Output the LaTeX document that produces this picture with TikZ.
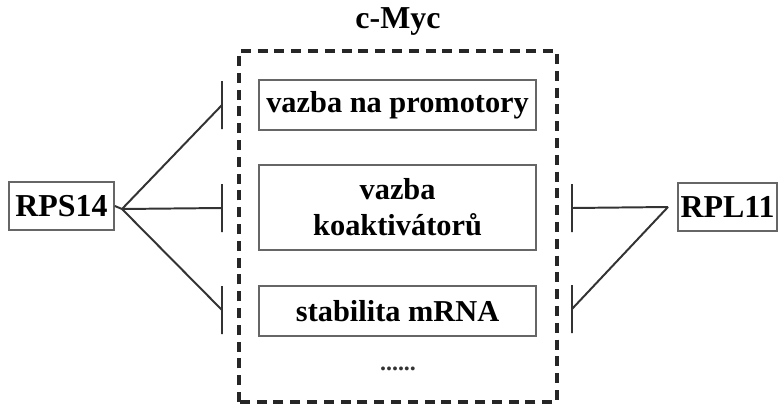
\documentclass[tikz,border=0pt]{standalone}
\usepackage{fontspec}
\setmainfont{Liberation Serif}
\usetikzlibrary{arrows.meta}

\begin{document}
\begin{tikzpicture}[
    txt/.style={font=\fontsize{22.7}{25.6}\selectfont\bfseries},
    gene/.style={rectangle,draw=black!60,line width=1.2pt,txt,inner sep=0pt,minimum height=1.2cm},
    func/.style={rectangle,draw=black!60,line width=1.4pt,font=\fontsize{21.6}{25.6}\selectfont\bfseries,
      align=center,minimum width=6.925cm},
    link/.style={line width=1.4pt,draw=black!80},
    % line ending in an upright bar
    inhib/.style={link,to path={-- (\tikztotarget) +(0,0.6) -- +(0,-0.6)}}
  ]
  \useasboundingbox (0,0) rectangle (19.45,10.175);
  % c-Myc and its functions
  \node[txt] (myc) at (9.95,9.63) {c-Myc};
  \draw[line width=2.2pt,black!85,dash pattern=on 0.25cm off 0.17cm]
  (5.975,0.125) rectangle (13.925,8.9);
  \node[func,minimum height=1.25cm] (promo) at (9.94,7.55) {vazba na promotory};
  \node[func,minimum height=2.125cm] (koakt) at (9.94,4.99) {vazba\\koaktivátorů};
  \node[func,minimum height=1.25cm] (mrna) at (9.94,2.4) {stabilita mRNA};
  \node[font=\fontsize{17}{18}\selectfont\bfseries,black!80] (dots) at (9.95,0.95) {......};
  % ribosomal proteins
  \node[gene,minimum width=2.625cm] (rps14) at (1.5375,5.025) {RPS14};
  \node[gene,minimum width=2.475cm] (rpl11) at (18.1875,5.0) {RPL11};
  \coordinate (lfan) at (3.05,4.95);
  \coordinate (rfan) at (16.7,5.0);
  \coordinate (la) at (5.55,7.55);
  \coordinate (lb) at (5.55,4.975);
  \coordinate (lc) at (5.55,2.425);
  \coordinate (rb) at (14.3,4.975);
  \coordinate (rc) at (14.3,2.45);
  \draw[link] (rps14.east) -- (lfan);
  \draw[inhib] (lfan) to (la);
  \draw[inhib] (lfan) to (lb);
  \draw[inhib] (lfan) to (lc);
  \draw[link,shorten <=0.25cm] (rpl11.west) -- (rfan);
  \draw[inhib] (rfan) to (rb);
  \draw[inhib] (rfan) to (rc);
\end{tikzpicture}
\end{document}
